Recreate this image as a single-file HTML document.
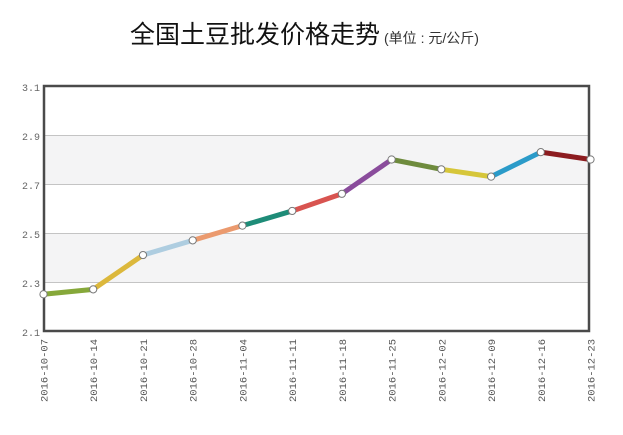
<!DOCTYPE html>
<html>
<head>
<meta charset="utf-8">
<style>
  html,body{margin:0;padding:0;background:#fff;}
  body{width:623px;height:435px;overflow:hidden;}
  svg{display:block;}
</style>
</head>
<body>
<svg width="623" height="435" viewBox="0 0 623 435" xmlns="http://www.w3.org/2000/svg">
  <rect x="0" y="0" width="623" height="435" fill="#fff"/>
  <!-- Title -->
  <text x="130" y="43" font-family="'Liberation Sans','Noto Sans CJK SC',sans-serif" font-size="25" fill="#111">全国土豆批发价格走势<tspan font-size="14" fill="#333" dx="4">(单位 : 元/公斤)</tspan></text>

  <!-- bands -->
  <rect x="44" y="135" width="545" height="49" fill="#f4f4f5"/>
  <rect x="44" y="233" width="545" height="49" fill="#f4f4f5"/>
  <!-- grid -->
  <g stroke="#c4c4c4" stroke-width="1">
    <line x1="44" y1="135.5" x2="589" y2="135.5"/>
    <line x1="44" y1="184.5" x2="589" y2="184.5"/>
    <line x1="44" y1="233.5" x2="589" y2="233.5"/>
    <line x1="44" y1="282.5" x2="589" y2="282.5"/>
  </g>
  <!-- border -->
  <rect x="44" y="86" width="545" height="245" fill="none" stroke="#4a4a4a" stroke-width="2.5"/>

  <!-- y labels -->
  <g font-family="'Liberation Mono',monospace" font-size="10" fill="#666" text-anchor="end">
    <text x="40" y="91">3.1</text>
    <text x="40" y="140">2.9</text>
    <text x="40" y="189">2.7</text>
    <text x="40" y="238">2.5</text>
    <text x="40" y="287">2.3</text>
    <text x="40" y="336">2.1</text>
  </g>

  <!-- x labels -->
  <g font-family="'Liberation Mono',monospace" font-size="10.5" fill="#555" text-anchor="end">
    <text transform="translate(47.5,339) rotate(-90)">2016-10-07</text>
    <text transform="translate(97.2,339) rotate(-90)">2016-10-14</text>
    <text transform="translate(147,339) rotate(-90)">2016-10-21</text>
    <text transform="translate(196.7,339) rotate(-90)">2016-10-28</text>
    <text transform="translate(246.4,339) rotate(-90)">2016-11-04</text>
    <text transform="translate(296.2,339) rotate(-90)">2016-11-11</text>
    <text transform="translate(345.9,339) rotate(-90)">2016-11-18</text>
    <text transform="translate(395.6,339) rotate(-90)">2016-11-25</text>
    <text transform="translate(445.3,339) rotate(-90)">2016-12-02</text>
    <text transform="translate(495.1,339) rotate(-90)">2016-12-09</text>
    <text transform="translate(544.8,339) rotate(-90)">2016-12-16</text>
    <text transform="translate(594.5,339) rotate(-90)">2016-12-23</text>
  </g>

  <!-- series segments -->
  <g stroke-width="5" stroke-linecap="round" fill="none">
    <line x1="43.5" y1="294.25" x2="93.2" y2="289.35" stroke="#86a83a"/>
    <line x1="93.2" y1="289.35" x2="143" y2="255.05" stroke="#dcb83c"/>
    <line x1="143" y1="255.05" x2="192.7" y2="240.35" stroke="#aecde0"/>
    <line x1="192.7" y1="240.35" x2="242.4" y2="225.65" stroke="#eb9a6e"/>
    <line x1="242.4" y1="225.65" x2="292.2" y2="210.95" stroke="#1e8c78"/>
    <line x1="292.2" y1="210.95" x2="341.9" y2="193.8" stroke="#d85450"/>
    <line x1="341.9" y1="193.8" x2="391.6" y2="159.5" stroke="#8a4c9c"/>
    <line x1="391.6" y1="159.5" x2="441.3" y2="169.3" stroke="#6e8b3d"/>
    <line x1="441.3" y1="169.3" x2="491.1" y2="176.65" stroke="#d6c63a"/>
    <line x1="491.1" y1="176.65" x2="540.8" y2="152.15" stroke="#2b9bc9"/>
    <line x1="540.8" y1="152.15" x2="590.5" y2="159.5" stroke="#8c1c20"/>
  </g>
  <!-- markers -->
  <g fill="#fff" stroke="#7a7a7a" stroke-width="1">
    <circle cx="43.5" cy="294.25" r="3.6"/>
    <circle cx="93.2" cy="289.35" r="3.6"/>
    <circle cx="143" cy="255.05" r="3.6"/>
    <circle cx="192.7" cy="240.35" r="3.6"/>
    <circle cx="242.4" cy="225.65" r="3.6"/>
    <circle cx="292.2" cy="210.95" r="3.6"/>
    <circle cx="341.9" cy="193.8" r="3.6"/>
    <circle cx="391.6" cy="159.5" r="3.6"/>
    <circle cx="441.3" cy="169.3" r="3.6"/>
    <circle cx="491.1" cy="176.65" r="3.6"/>
    <circle cx="540.8" cy="152.15" r="3.6"/>
    <circle cx="590.5" cy="159.5" r="3.6"/>
  </g>
</svg>
</body>
</html>
